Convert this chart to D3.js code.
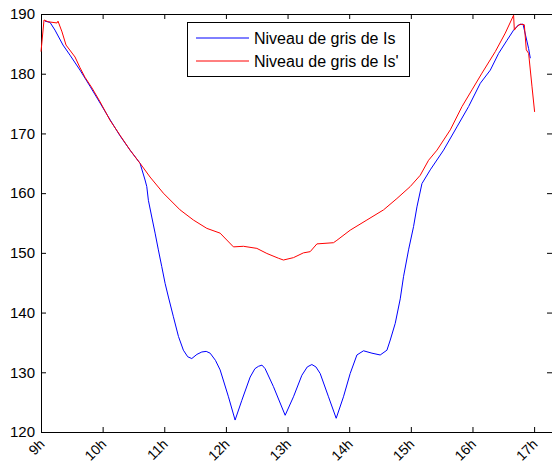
<!DOCTYPE html>
<html>
<head>
<meta charset="utf-8">
<script src="https://cdn.jsdelivr.net/npm/d3@7"></script>
<style>
  body { margin: 0; background: #fff; }
  svg { display: block; }
  text { font-family: Arial, "Liberation Sans", sans-serif; fill: #000; }
</style>
</head>
<body>
<div class="chart"></div>
<script>
// hours of the day (decimal) and grey levels
const HOURS_IS = [9.065, 9.146, 9.227, 9.357, 9.471, 9.633, 9.795, 9.958, 10.12, 10.282, 10.445, 10.607, 10.688, 10.716, 10.742, 10.797, 10.851, 10.904, 10.959, 11.013, 11.067, 11.148, 11.23, 11.31, 11.38, 11.446, 11.53, 11.609, 11.68, 11.744, 11.83, 11.906, 12.041, 12.149, 12.258, 12.393, 12.47, 12.528, 12.585, 12.636, 12.771, 12.961, 13.096, 13.232, 13.32, 13.394, 13.46, 13.529, 13.664, 13.789, 13.907, 14.016, 14.125, 14.232, 14.369, 14.503, 14.612, 14.666, 14.747, 14.828, 14.881, 14.963, 15.044, 15.099, 15.18, 15.315, 15.531, 15.748, 15.937, 16.127, 16.289, 16.424, 16.56, 16.667, 16.749, 16.82, 16.911, 16.938];
const GREY_IS = [188.8, 188.6, 187.3, 184.8, 183.1, 180.6, 177.9, 175.1, 172.3, 169.6, 167.2, 165.0, 162.2, 161.1, 158.8, 156.0, 153.3, 150.5, 147.7, 144.9, 142.6, 139.3, 136.0, 133.7, 132.6, 132.3, 133.0, 133.4, 133.5, 133.2, 132.0, 130.4, 125.9, 122.0, 125.3, 129.2, 130.6, 131.0, 131.2, 130.6, 127.6, 122.8, 125.9, 129.5, 130.9, 131.3, 130.9, 129.8, 125.9, 122.3, 125.9, 129.8, 132.9, 133.6, 133.2, 132.9, 133.7, 135.4, 138.2, 142.3, 146.0, 150.5, 154.4, 157.7, 161.6, 163.9, 167.2, 171.1, 174.5, 178.4, 180.6, 183.4, 185.6, 187.3, 188.2, 188.3, 184.2, 182.6];

const HOURS_IS2 = [9.0, 9.049, 9.114, 9.26, 9.276, 9.341, 9.406, 9.552, 9.633, 9.714, 9.828, 9.958, 10.12, 10.282, 10.445, 10.607, 10.769, 10.985, 11.256, 11.472, 11.69, 11.906, 12.122, 12.284, 12.502, 12.664, 12.852, 12.933, 13.096, 13.258, 13.367, 13.476, 13.745, 13.8, 14.016, 14.287, 14.557, 14.774, 14.99, 15.153, 15.287, 15.424, 15.64, 15.83, 15.992, 16.154, 16.37, 16.532, 16.667, 16.679, 16.722, 16.776, 16.841, 16.873, 16.911, 16.966, 17.008];
const GREY_IS2 = [183.7, 189.0, 188.7, 188.5, 188.8, 187.0, 184.8, 182.8, 181.0, 179.4, 177.6, 175.3, 172.2, 169.7, 167.2, 165.0, 162.7, 160.0, 157.2, 155.5, 154.1, 153.3, 151.0, 151.1, 150.75, 149.9, 149.1, 148.8, 149.2, 150.0, 150.2, 151.5, 151.7, 152.1, 153.8, 155.5, 157.2, 159.1, 161.1, 163.0, 165.5, 167.2, 170.6, 174.5, 177.3, 180.1, 183.7, 186.8, 189.8, 187.3, 187.9, 188.3, 188.2, 184.0, 183.4, 177.8, 173.6];

const X_TICKS = [9, 10, 11, 12, 13, 14, 15, 16, 17];
const Y_TICKS = [120, 130, 140, 150, 160, 170, 180, 190];
const LEGEND_LABELS = ["Niveau de gris de Is", "Niveau de gris de Is'"];
const COLORS = ["#0000ff", "#ff0000"];

const WIDTH = 552;
const HEIGHT = 466;
const LEFT = 41, TOP = 14, RIGHT = 552, BOTTOM = 432;
const TICK = 5;

const svg = d3.select(".chart")
  .append("svg")
  .attr("width", WIDTH)
  .attr("height", HEIGHT);

const xScale = d3.scaleLinear().domain([9, 17.29]).range([LEFT, RIGHT]);
const yScale = d3.scaleLinear().domain([120, 190]).range([BOTTOM, TOP]);

// ticks pointing inwards on all four sides, like matlab
const xAxisBottom = svg.append("g")
  .attr("transform", `translate(0, ${BOTTOM})`)
  .call(d3.axisBottom(xScale).tickValues(X_TICKS).tickSizeInner(-TICK).tickSizeOuter(0).tickFormat(d => d + "h"));
xAxisBottom.selectAll("text")
  .attr("font-size", 14)
  .attr("text-anchor", "end")
  .attr("dy", null)
  .attr("y", 0)
  .attr("transform", "translate(4, 13) rotate(-45)");

svg.append("g")
  .attr("transform", `translate(0, ${TOP})`)
  .call(d3.axisTop(xScale).tickValues(X_TICKS).tickSizeInner(-TICK).tickSizeOuter(0).tickFormat(""));

const yAxisLeft = svg.append("g")
  .attr("transform", `translate(${LEFT}, 0)`)
  .call(d3.axisLeft(yScale).tickValues(Y_TICKS).tickSizeInner(-TICK).tickSizeOuter(0).tickPadding(6));
yAxisLeft.selectAll("text").attr("font-size", 15);

svg.append("g")
  .attr("transform", `translate(${RIGHT}, 0)`)
  .call(d3.axisRight(yScale).tickValues(Y_TICKS).tickSizeInner(-TICK).tickSizeOuter(0).tickFormat(""));

svg.selectAll(".domain").attr("stroke", "#000");
svg.selectAll(".tick line").attr("stroke", "#000");

const line = d3.line()
  .x(d => xScale(d[0]))
  .y(d => yScale(d[1]));

const series = [
  d3.zip(HOURS_IS, GREY_IS),
  d3.zip(HOURS_IS2, GREY_IS2),
];

svg.append("g")
  .selectAll("path")
  .data(series)
  .join("path")
  .attr("d", line)
  .attr("fill", "none")
  .attr("stroke", (d, i) => COLORS[i])
  .attr("stroke-width", 1);

// legend box
const legend = svg.append("g").attr("transform", "translate(187, 22)");
legend.append("rect")
  .attr("x", 0.5)
  .attr("y", 0.5)
  .attr("width", 222)
  .attr("height", 54)
  .attr("fill", "#fff")
  .attr("stroke", "#000");

const rows = legend.selectAll(".row")
  .data(LEGEND_LABELS)
  .join("g")
  .attr("class", "row")
  .attr("transform", (d, i) => `translate(0, ${16 + i * 23})`);
rows.append("line")
  .attr("x1", 9)
  .attr("x2", 62)
  .attr("stroke", (d, i) => COLORS[i]);
rows.append("text")
  .attr("x", 67)
  .attr("y", 6)
  .attr("font-size", 16)
  .text(d => d);
</script>
</body>
</html>
